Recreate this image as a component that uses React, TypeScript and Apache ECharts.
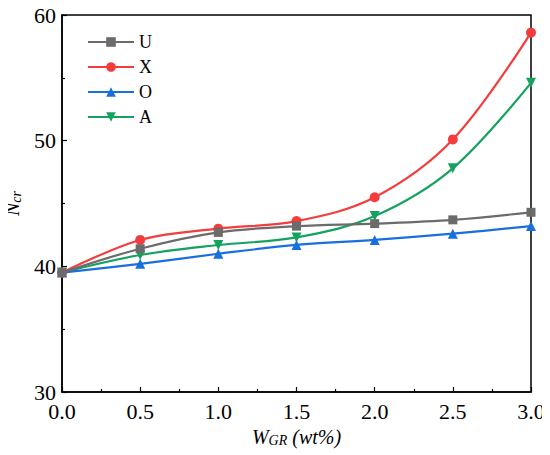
import React, { useEffect, useRef } from "react";
import * as echarts from "echarts";

const xValues = [0, 0.5, 1.0, 1.5, 2.0, 2.5, 3.0];
const seriesNames = ["U", "X", "O", "A"];
const uValues = [39.5, 41.4, 42.7, 43.2, 43.4, 43.7, 44.3];
const xSeriesValues = [39.5, 42.1, 43.0, 43.6, 45.5, 50.1, 58.6];
const oValues = [39.5, 40.2, 41.0, 41.7, 42.1, 42.6, 43.2];
const aValues = [39.5, 40.9, 41.7, 42.3, 44.0, 47.8, 54.6];
const colors = ["#6b6b6b", "#f53c3c", "#1a6fdf", "#14a35e"];
const symbols = ["rect", "circle", "triangle", "path://M0,0 L10,0 L5,9 Z"];
const symbolSizes = [9, 10, 10, 10];

const FONT = "Liberation Serif";

export default function App() {
  const ref = useRef<HTMLDivElement>(null);
  useEffect(() => {
    if (!ref.current) return;
    const chart = echarts.init(ref.current, null, { renderer: "svg" });
    const all = [uValues, xSeriesValues, oValues, aValues];
    const rich = {
      i: { fontFamily: FONT, fontStyle: "italic", fontSize: 20, color: "#000" },
      s: { fontFamily: FONT, fontStyle: "italic", fontSize: 14, color: "#000", verticalAlign: "bottom", padding: [8, 0, 0, 0] },
    };
    chart.setOption({
      animation: false,
      backgroundColor: "#ffffff",
      grid: {
        left: 62,
        right: 19,
        top: 15,
        bottom: 63,
        containLabel: false,
        outerBoundsMode: "none",
        show: true,
        borderColor: "#000",
        borderWidth: 1.5,
        backgroundColor: "transparent",
      },
      legend: {
        left: 87,
        top: 33,
        padding: 0,
        orient: "vertical",
        itemWidth: 46,
        itemHeight: 12,
        itemGap: 7,
        textStyle: { fontFamily: FONT, fontSize: 18, color: "#000" },
        data: seriesNames,
      },
      xAxis: {
        type: "value",
        min: 0,
        max: 3,
        interval: 0.5,
        name: "{i|W}{s|GR}{i| (wt%)}",
        nameLocation: "middle",
        nameGap: 32,
        nameTextStyle: { rich },
        axisLine: { show: true, lineStyle: { color: "#000", width: 1.5 } },
        axisTick: { show: true, inside: true, length: 5, lineStyle: { color: "#000", width: 1.2 } },
        minorTick: { show: true, splitNumber: 2, length: 3, lineStyle: { color: "#000", width: 1.2 } },
        axisLabel: {
          fontFamily: FONT,
          fontSize: 22,
          color: "#000",
          margin: 8,
          formatter: (v: number) => v.toFixed(1),
        },
        splitLine: { show: false },
      },
      yAxis: {
        type: "value",
        min: 30,
        max: 60,
        interval: 10,
        name: "{i|N}{s|cr}",
        nameLocation: "middle",
        nameGap: 32,
        nameRotate: 90,
        nameTextStyle: { rich },
        axisLine: { show: true, lineStyle: { color: "#000", width: 1.5 } },
        axisTick: { show: true, inside: true, length: 5, lineStyle: { color: "#000", width: 1.2 } },
        minorTick: { show: true, splitNumber: 2, length: 3, lineStyle: { color: "#000", width: 1.2 } },
        axisLabel: { fontFamily: FONT, fontSize: 22, color: "#000", margin: 6 },
        splitLine: { show: false },
      },
      series: seriesNames.map((name, i) => ({
        name,
        type: "line",
        data: xValues.map((x, j) => [x, all[i][j]]),
        smooth: 0.35,
        symbol: symbols[i],
        symbolSize: symbolSizes[i],
        showAllSymbol: true,
        clip: true,
        z: 4 - i,
        lineStyle: { color: colors[i], width: 2.2 },
        itemStyle: { color: colors[i] },
      })),
    });
    return () => chart.dispose();
  }, []);
  return <div ref={ref} style={{ width: 550, height: 455, margin: "-8px 0 0 -8px" }} />;
}
